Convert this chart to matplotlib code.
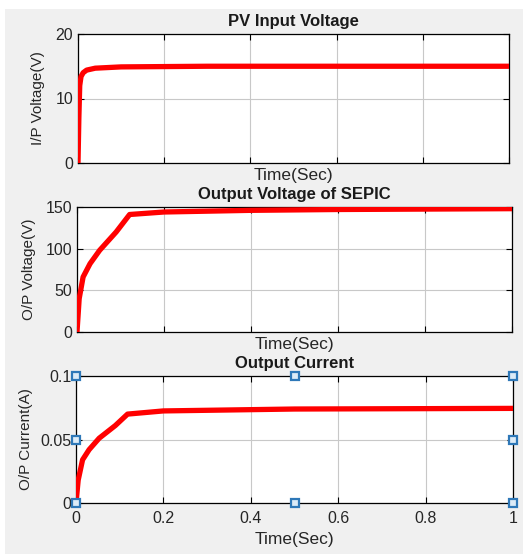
import numpy as np
import matplotlib.pyplot as plt
from matplotlib.patches import Rectangle

plt.rcParams['font.family'] = ['Liberation Sans', 'DejaVu Sans']

# PV input voltage
t_pv = [0, 0.002, 0.004, 0.007, 0.012, 0.02, 0.04, 0.1, 0.3, 1.0]
v_pv = [0, 7.0, 12.0, 13.4, 14.0, 14.4, 14.7, 14.9, 15.0, 15.0]

# SEPIC output voltage
t_out = [0, 0.005, 0.014, 0.03, 0.052, 0.09, 0.121, 0.2, 0.4, 0.6, 1.0]
v_out = [0, 40, 66, 82, 98, 120, 141, 144, 146, 147, 148]

# output current
t_cur = [0, 0.005, 0.015, 0.03, 0.053, 0.09, 0.118, 0.2, 0.5, 1.0]
i_cur = [0, 0.018, 0.034, 0.042, 0.051, 0.061, 0.070, 0.0725, 0.074, 0.0745]

# matlab selection handles on the last axes
handle_x = [0, 0, 0, 0.5, 0.5, 1, 1, 1]
handle_y = [0, 0.05, 0.1, 0, 0.1, 0, 0.05, 0.1]

W, H = 523, 554
fig = plt.figure(figsize=(W / 100, H / 100), dpi=100, facecolor='white')
fig.patches.append(Rectangle((5 / W, 0), 1, 1 - 9 / H, transform=fig.transFigure,
                             facecolor='#f0f0f0', edgecolor='none', zorder=-10))


def make_ax(l, r, t, b):
    return fig.add_axes([l / W, 1 - b / H, (r - l) / W, (b - t) / H])


panels = [
    (make_ax(78, 509, 34, 163), t_pv, v_pv, 'PV Input Voltage', 'I/P Voltage(V)',
     [0, 10, 20], ['0', '10', '20'], (0, 20), 7.5),
    (make_ax(77, 512, 207, 332), t_out, v_out, 'Output Voltage of SEPIC', 'O/P Voltage(V)',
     [0, 50, 100, 150], ['0', '50', '100', '150'], (0, 150), 7),
    (make_ax(76, 513, 376, 503), t_cur, i_cur, 'Output Current', 'O/P Current(A)',
     [0, 0.05, 0.1], ['0', '0.05', '0.1'], (0, 0.1), 5),
]

for k, (ax, x, y, title, ylab, yt, ytl, ylim, ypad) in enumerate(panels):
    ax.plot(x, y, color='red', lw=3.8, solid_capstyle='butt', zorder=3)
    ax.set_xlim(0, 1)
    ax.set_ylim(*ylim)
    ax.set_yticks(yt)
    ax.set_yticklabels(ytl)
    ax.set_xticks([0, 0.2, 0.4, 0.6, 0.8, 1])
    ax.grid(True, color='#c8c8c8', lw=0.8)
    ax.tick_params(direction='in', length=4, top=True, right=True, colors='black',
                   labelcolor='#262626', labelsize=11.5, width=0.8)
    for s in ax.spines.values():
        s.set_color('black')
        s.set_linewidth(0.9)
    ax.set_title(title, fontsize=12, fontweight='bold', pad=6, color='#1a1a1a')
    ax.set_ylabel(ylab, fontsize=11, color='#262626', labelpad=ypad)
    if k < 2:
        ax.set_xticklabels([])
        ax.set_xlabel('Time(Sec)', fontsize=12.5, color='#262626', labelpad=0)
    else:
        ax.set_xticklabels(['0', '0.2', '0.4', '0.6', '0.8', '1'])
        ax.tick_params(axis='x', pad=6)
        ax.set_xlabel('Time(Sec)', fontsize=12.5, color='#262626', labelpad=4)
        ax.plot(handle_x, handle_y, 's', ms=6, mfc='#dcebf7', mec='#2e78b8', mew=1.6,
                clip_on=False, zorder=4, linestyle='none')

fig.savefig('out.png', dpi=100, facecolor=fig.get_facecolor())
